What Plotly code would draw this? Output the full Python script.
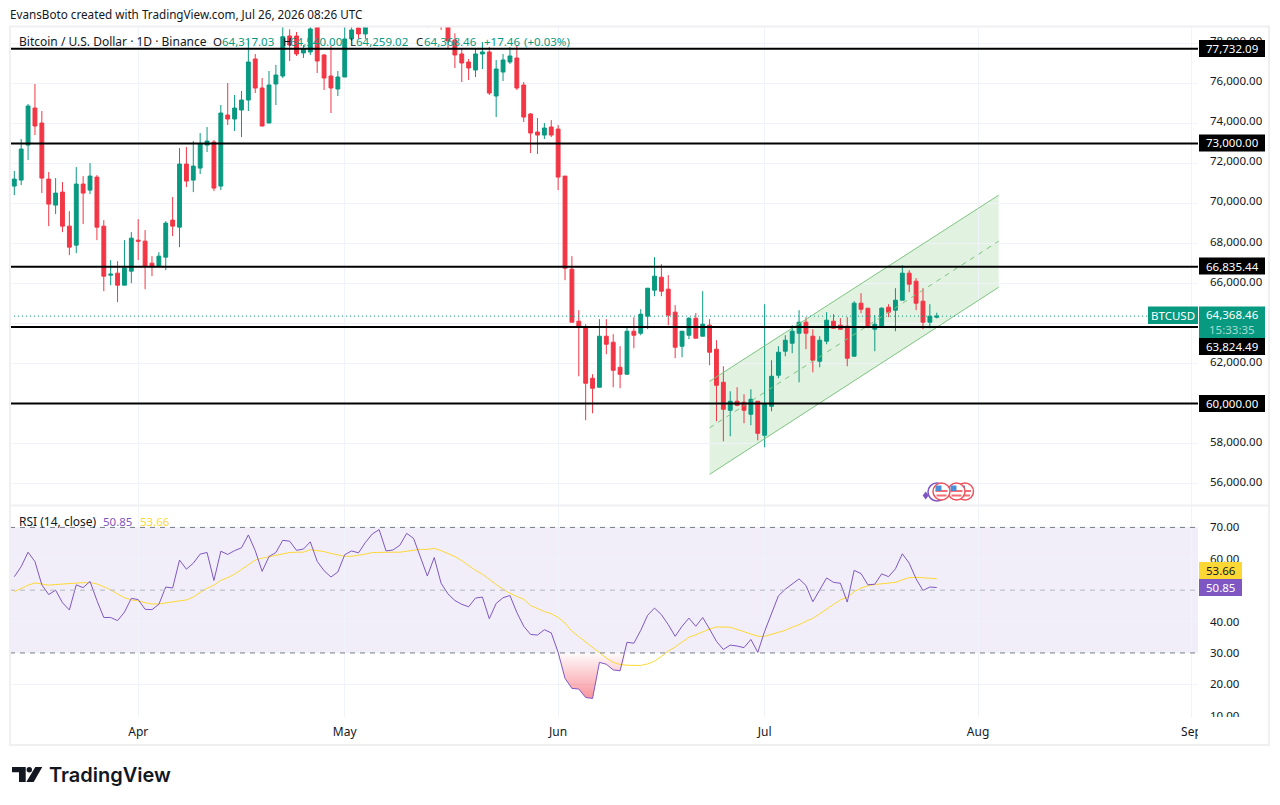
""" BTC/USD daily chart with RSI pane, rebuilt with plotly
"""

import pandas as pd
import plotly.graph_objects as go

WIDTH = 1280
HEIGHT = 805

# Daily candles, Mar 14 to Jul 26 2026 (rows of 10)
OPENS = [
    70867, 71167, 72917, 74767, 74017, 71217, 69917, 70567, 68867, 67917,
    70967, 70667, 71317, 68867, 66417, 66517, 65917, 66617, 68167, 68117,
    67017, 66867, 67317, 69167, 68817, 71967, 71167, 71767, 72917, 73067,
    70867, 74417, 74217, 74667, 75167, 77217, 75767, 74017, 75967, 76367,
    78367, 78367, 77517, 77567, 79100, 77417, 76367, 75717, 76317, 78217,
    78767, 78467, 79050, 79900, 80700, 79900, 79950, 80300, 81300, 80900,
    79500, 79000, 79800, 78900, 78167, 77467, 77067, 76667, 77467, 77567,
    75367, 76567, 77067, 77267, 75917, 74467, 73567, 73417, 73817, 73717,
    71367, 66717, 64117, 63817, 61267, 60817, 63367, 63067, 61817, 61467,
    63617, 63517, 64367, 65667, 66317, 65717, 64567, 62867, 63417, 64267,
    63367, 63917, 62717, 61067, 59667, 60117, 60067, 59467, 60117, 58417,
    59867, 61417, 62617, 63017, 63517, 64067, 63367, 62117, 63117, 64117,
    63917, 63867, 62367, 65017, 64767, 63717, 63817, 64817, 64667, 65167,
    66517, 66117, 65117, 64067, 64317.03,
]
HIGHS = [
    71617, 73217, 74967, 75967, 74617, 71567, 71267, 71067, 69617, 71817,
    71367, 72017, 71417, 69167, 67167, 67117, 68167, 68567, 69217, 68667,
    67367, 67567, 69117, 70317, 72767, 72817, 73117, 73517, 73817, 73167,
    74917, 76017, 75417, 75617, 78167, 77467, 76267, 76617, 76917, 78950,
    78700, 78567, 77917, 79100, 79400, 77467, 77867, 76617, 78900, 78900,
    78950, 79450, 80200, 81400, 81000, 80500, 80800, 82000, 81800, 81000,
    79700, 80200, 79900, 79000, 78500, 77717, 77217, 77767, 78067, 77817,
    77167, 77467, 77817, 77867, 76067, 74517, 74267, 74017, 74167, 73917,
    71367, 67367, 64667, 63967, 61467, 64217, 64217, 63467, 62867, 63867,
    64317, 64717, 65767, 67317, 66967, 66417, 64917, 63617, 64317, 64517,
    65617, 64217, 63167, 61867, 60617, 60817, 60467, 60717, 60117, 64967,
    62167, 62867, 63417, 63917, 64667, 64317, 63717, 63367, 64567, 64467,
    64267, 64317, 65117, 65517, 64767, 64417, 64817, 64967, 65767, 66917,
    66667, 66267, 65767, 64967, 64540.00,
]
LOWS = [
    70417, 70917, 72167, 73417, 70517, 68867, 69467, 68567, 67417, 67517,
    68967, 70467, 68167, 65617, 65917, 65067, 65917, 66017, 67167, 65717,
    66367, 66867, 66667, 68367, 67817, 70817, 70567, 71467, 72567, 70617,
    70667, 73917, 73617, 73317, 74617, 75517, 73867, 74017, 74917, 76267,
    77117, 77367, 77267, 77417, 76517, 75667, 74517, 75367, 76317, 78117,
    78217, 78217, 78950, 79600, 79700, 79500, 79600, 80100, 80400, 79200,
    78800, 78950, 78670, 77717, 76767, 76067, 76167, 76317, 76717, 75417,
    74317, 76117, 76967, 75667, 74067, 72517, 72467, 73217, 73317, 70667,
    66167, 64067, 61367, 59167, 59517, 60817, 62467, 60817, 60767, 61467,
    62767, 63417, 63717, 65367, 65367, 63917, 62267, 62317, 63217, 63267,
    63367, 61917, 59117, 58117, 58367, 59867, 59017, 58917, 58167, 57817,
    59617, 61267, 62367, 62517, 61067, 62717, 61567, 61817, 62967, 63767,
    63717, 61867, 62367, 64517, 63767, 62617, 63817, 64317, 63617, 65167,
    65567, 64667, 63717, 63767, 64259.02,
]
CLOSES = [
    71217, 72717, 74867, 73867, 71267, 69967, 70517, 68867, 67817, 70967,
    70517, 71367, 68817, 66367, 66467, 65917, 66767, 68267, 68117, 66867,
    66867, 67367, 69017, 68867, 71967, 71117, 71867, 72967, 73117, 70767,
    74517, 74217, 74767, 75167, 77067, 75767, 73867, 75917, 76417, 78330,
    77917, 77467, 77717, 78717, 77117, 76267, 75767, 76317, 78217, 78667,
    78467, 79050, 79900, 80700, 79900, 79950, 80300, 81300, 80900, 79500,
    79000, 79800, 78900, 78117, 77417, 77017, 76767, 77467, 77567, 75517,
    76717, 77167, 77367, 75767, 74317, 73517, 73417, 73767, 73417, 71317,
    66767, 64067, 63817, 61017, 60767, 63367, 62967, 61667, 61467, 63617,
    63417, 64467, 65767, 66367, 65617, 64417, 62817, 63617, 64267, 63267,
    63967, 62567, 60917, 59717, 60117, 59917, 59667, 60217, 58517, 59967,
    61367, 62567, 63167, 63617, 64067, 63517, 62167, 63167, 64167, 63767,
    63717, 62267, 65017, 64717, 63817, 63967, 64767, 64567, 65167, 66517,
    65967, 65017, 64067, 64367, 64368.46,
]

# RSI (14, close) and its moving average, one value per candle
RSI = [
    54.3, 57.5, 62.1, 59.1, 51.7, 48.6, 50.0, 46.0, 43.7, 51.7,
    50.8, 52.8, 46.7, 41.3, 41.3, 40.3, 43.0, 47.4, 47.0, 43.9,
    43.8, 45.5, 51.0, 50.7, 59.6, 56.7, 58.6, 61.5, 62.0, 53.1,
    62.4, 61.4, 62.6, 63.5, 67.6, 62.6, 56.0, 60.7, 62.0, 65.9,
    65.6, 62.7, 63.1, 65.4, 59.2, 56.2, 54.2, 55.8, 61.3, 62.5,
    61.9, 65.2, 67.9, 69.3, 62.5, 62.8, 64.3, 68.1, 66.5, 60.2,
    54.5, 60.4, 52.2, 48.8, 46.7, 45.5, 44.7, 47.5, 47.8, 40.9,
    45.8, 47.6, 48.3, 42.9, 38.5, 35.9, 35.7, 37.4, 36.4, 30.2,
    21.9, 18.7, 18.5, 15.8, 15.5, 27.0, 26.4, 24.6, 24.3, 33.4,
    33.1, 37.2, 42.0, 44.3, 42.2, 39.0, 35.3, 38.5, 41.1, 38.5,
    41.3, 37.6, 33.7, 31.1, 32.5, 32.2, 31.7, 34.3, 30.2, 36.9,
    42.7, 48.2, 50.3, 52.0, 53.6, 51.5, 46.3, 50.1, 53.9, 52.5,
    52.2, 46.2, 56.3, 55.3, 51.7, 51.9, 55.2, 54.3, 56.8, 61.6,
    58.6, 53.6, 49.9, 51.0, 50.85,
]
RSI_MA = [
    49.5, 50.5, 51.6, 52.3, 52.0, 51.6, 51.8, 52.0, 52.2, 52.3,
    52.4, 52.4, 52.0, 51.1, 50.1, 48.8, 47.6, 46.9, 46.6, 46.0,
    45.6, 45.6, 46.0, 46.2, 46.6, 46.9, 47.8, 49.3, 50.6, 51.6,
    53.1, 54.0, 55.1, 56.6, 58.0, 59.6, 60.2, 60.6, 61.0, 61.6,
    62.0, 62.1, 62.1, 62.9, 62.7, 62.3, 61.7, 61.2, 60.8, 60.8,
    61.1, 61.5, 62.0, 62.1, 62.1, 62.1, 62.1, 62.4, 62.8, 63.0,
    63.0, 63.3, 62.6, 61.7, 60.7, 59.4, 57.8, 56.3, 55.1, 53.3,
    51.8, 50.3, 49.0, 48.0, 47.1, 45.1, 44.1, 43.2, 42.5, 41.3,
    39.5, 36.9, 35.2, 33.5, 31.6, 30.0, 28.4, 27.0, 26.3, 26.1,
    26.0, 26.0, 26.5, 27.4, 28.9, 30.6, 31.9, 33.4, 35.0, 35.8,
    36.8, 37.6, 38.3, 38.3, 38.2, 37.5, 36.8, 36.0, 35.3, 35.3,
    35.9, 36.6, 37.2, 38.2, 39.0, 40.1, 41.0, 42.5, 44.0, 45.6,
    46.9, 47.7, 49.5, 50.7, 51.4, 51.8, 52.0, 52.2, 52.5, 53.3,
    54.0, 54.1, 54.0, 53.8, 53.66,
]

DATES = pd.date_range('2026-03-14', periods=len(CLOSES), freq='D')

# Horizontal levels drawn on the chart
LEVELS = [77732.09, 73000.00, 66835.44, 63824.49, 60000.00]

# Rising channel
CHANNEL_DATES = ['2026-06-23', '2026-08-04']
CHANNEL_UPPER = [61115, 70415]
CHANNEL_MID = [58790, 68115]
CHANNEL_LOWER = [56465, 65815]

PRICE_TICKS = list(range(56000, 80000, 2000))
RSI_TICKS = [10, 20, 30, 40, 50, 60, 70]
MONTHS = ['2026-04-01', '2026-05-01', '2026-06-01', '2026-07-01', '2026-08-01', '2026-09-01']
MONTH_LABELS = ['Apr', 'May', 'Jun', 'Jul', 'Aug', 'Sep']

GREEN = '#089981'
RED = '#f23645'
PURPLE = '#7e57c2'
YELLOW = '#fdd835'
GRID = '#f0f3fa'
FRAME = '#f0f0f3'
TEXT = '#131722'
FONT = 'Noto Sans'
NUMBER_SIZE = 11.5
PANE_LEFT = 10
PANE_RIGHT = 1198


def px(x: float) -> float:
    """Horizontal window pixel to paper coordinate."""
    return x / WIDTH


def py(y: float) -> float:
    """Vertical window pixel to paper coordinate."""
    return 1 - y / HEIGHT


def label(fig, x, y, text, color=TEXT, size=12, anchor='left') -> None:
    """Put a text at a pixel position."""
    fig.add_annotation(xref='paper', yref='paper', x=px(x), y=py(y), text=text,
                       showarrow=False, xanchor=anchor, yanchor='middle',
                       borderpad=0, font=dict(family=FONT, size=size, color=color))


def box(fig, x0, y0, x1, y1, fill, line=None, kind='rect', width=1) -> None:
    """Put a filled shape at a pixel position, above the traces."""
    fig.add_shape(type=kind, xref='paper', yref='paper', layer='above',
                  x0=px(x0), x1=px(x1), y0=py(y0), y1=py(y1), fillcolor=fill,
                  line=dict(color=line, width=width) if line else dict(width=0))


# Create the figure
fig = go.Figure()

fig.add_trace(go.Candlestick(
    x=DATES, open=OPENS, high=HIGHS, low=LOWS, close=CLOSES,
    increasing=dict(line=dict(color=GREEN, width=1), fillcolor=GREEN),
    decreasing=dict(line=dict(color=RED, width=1), fillcolor=RED),
    whiskerwidth=0, showlegend=False, hoverinfo='skip'))

# Channel fill goes under the candles, its lines over them
channel_path = (f'M {CHANNEL_DATES[0]} {CHANNEL_UPPER[0]} L {CHANNEL_DATES[1]} {CHANNEL_UPPER[1]} '
                f'L {CHANNEL_DATES[1]} {CHANNEL_LOWER[1]} L {CHANNEL_DATES[0]} {CHANNEL_LOWER[0]} Z')
fig.add_shape(type='path', xref='x', yref='y', path=channel_path, layer='below',
              fillcolor='rgba(76,175,80,0.17)', line=dict(width=0))
for values, dash in [(CHANNEL_UPPER, 'solid'), (CHANNEL_LOWER, 'solid'), (CHANNEL_MID, '5px 5px')]:
    fig.add_trace(go.Scatter(x=CHANNEL_DATES, y=values, mode='lines',
                             line=dict(color='#7cc47f', width=1, dash=dash),
                             showlegend=False, hoverinfo='skip'))

# RSI pane
oversold_dates = list(DATES[79:90])
oversold_values = [min(value, 30) for value in RSI[79:90]]
fig.add_trace(go.Scatter(x=oversold_dates + oversold_dates[::-1],
                         y=oversold_values + [30] * len(oversold_values),
                         xaxis='x2', yaxis='y2', mode='lines', fill='toself',
                         fillgradient=dict(type='vertical', start=15, stop=30,
                                           colorscale=[[0, 'rgba(242,54,69,0.55)'],
                                                       [1, 'rgba(242,54,69,0.02)']]),
                         line=dict(width=0), showlegend=False, hoverinfo='skip'))
fig.add_trace(go.Scatter(x=DATES, y=RSI_MA, xaxis='x2', yaxis='y2', mode='lines',
                         line=dict(color=YELLOW, width=1), showlegend=False, hoverinfo='skip'))
fig.add_trace(go.Scatter(x=DATES, y=RSI, xaxis='x2', yaxis='y2', mode='lines',
                         line=dict(color=PURPLE, width=1), showlegend=False, hoverinfo='skip'))

fig.add_shape(type='rect', xref='x2 domain', yref='y2', x0=0, x1=1, y0=30, y1=70, layer='below',
              fillcolor='rgba(126,87,194,0.1)', line=dict(width=0))
for level, color in [(70, '#787b86'), (50, '#b4b5bd'), (30, '#787b86')]:
    fig.add_shape(type='line', xref='x2 domain', yref='y2', x0=0, x1=1, y0=level, y1=level, layer='above',
                  line=dict(color=color, width=1, dash='5px 5px'))

# Levels and last price line
for level in LEVELS:
    fig.add_shape(type='line', xref='x domain', yref='y', x0=0, x1=1, y0=level, y1=level, layer='above',
                  line=dict(color='#000000', width=2))
fig.add_shape(type='line', xref='x domain', yref='y', x0=0, x1=1, y0=CLOSES[-1], y1=CLOSES[-1], layer='above',
              line=dict(color=GREEN, width=1, dash='1px 3px'))

# Configure the figure
date_range = ['2026-03-13 09:00', '2026-09-01 22:48']
common_x = dict(range=date_range, type='date', tickmode='array', tickvals=MONTHS, ticktext=MONTH_LABELS,
                showgrid=True, gridcolor=GRID, gridwidth=1, zeroline=False, showline=False, ticks='',
                rangeslider=dict(visible=False))
common_y = dict(side='right', showgrid=True, gridcolor=GRID, gridwidth=1, zeroline=False, showline=False,
                ticks='', ticklabelstandoff=11, tickfont=dict(family=FONT, size=NUMBER_SIZE, color=TEXT))
fig.update_layout(
    width=WIDTH, height=HEIGHT, margin=dict(l=0, r=0, t=0, b=0, autoexpand=False),
    paper_bgcolor='white', plot_bgcolor='white', showlegend=False, boxgap=0.2,
    xaxis=dict(common_x, domain=[px(PANE_LEFT), px(PANE_RIGHT)], anchor='y', showticklabels=False),
    xaxis2=dict(common_x, domain=[px(PANE_LEFT), px(PANE_RIGHT)], anchor='y2', showticklabels=True,
                ticklabelstandoff=6, tickfont=dict(family=FONT, size=12, color=TEXT)),
    yaxis=dict(common_y, domain=[py(505.5), py(27)], anchor='x', range=[54910, 78815],
               tickmode='array', tickvals=PRICE_TICKS, tickformat=',.2f', ticklabelshift=-2),
    yaxis2=dict(common_y, domain=[py(716.5), py(505.5)], anchor='x2', range=[9.75, 76.98],
                tickmode='array', tickvals=RSI_TICKS, tickformat='.2f'),
)

# Frame round the chart
fig.add_shape(type='rect', xref='paper', yref='paper', layer='above', x0=px(10), x1=px(1269), y0=py(745), y1=py(26.5),
              line=dict(color=FRAME, width=2))
fig.add_shape(type='line', xref='paper', yref='paper', layer='above', x0=px(10), x1=px(1269), y0=py(505.5), y1=py(505.5),
              line=dict(color=FRAME, width=2))

# Clip the tick labels that run off their panes
box(fig, 1199, 717, 1266, 730, 'white')
box(fig, 1198, 722, 1216, 742, 'white')

# Header and legends
label(fig, 9, 14, 'EvansBoto created with TradingView.com, Jul 26, 2026 08:26 UTC', size=11.7)
label(fig, 18, 41, 'Bitcoin / U.S. Dollar · 1D · Binance')
for x, text, color in [(212, 'O', TEXT), (221, '64,317.03', GREEN), (282, 'H', TEXT), (289, '64,540.00', GREEN),
                       (349, 'L', TEXT), (355, '64,259.02', GREEN), (415, 'C', TEXT), (423, '64,368.46', GREEN),
                       (483, '+17.46', GREEN), (523, '(+0.03%)', GREEN)]:
    label(fig, x, 41, text, color, size=NUMBER_SIZE)
label(fig, 18, 521, 'RSI (14, close)')
label(fig, 102, 521, '50.85', PURPLE, size=NUMBER_SIZE)
label(fig, 139, 521, '53.66', YELLOW, size=NUMBER_SIZE)

# Price axis labels
for level, top in zip(LEVELS, [40, 134.5, 257.5, 338, 395]):
    box(fig, 1199, top, 1265, top + 17, '#000000')
    label(fig, 1232, top + 8.5, f'{level:,.2f}', 'white', NUMBER_SIZE, 'center')
box(fig, 1199, 306.5, 1265, 338, GREEN)
label(fig, 1232, 315, f'{CLOSES[-1]:,.2f}', 'white', NUMBER_SIZE, 'center')
label(fig, 1232, 329, '15:33:35', '#a6dcd2', NUMBER_SIZE, 'center')
box(fig, 1148, 306.5, 1198, 324, GREEN)
label(fig, 1173, 315.5, 'BTCUSD', 'white', NUMBER_SIZE, 'center')
box(fig, 1199, 562, 1242, 579, YELLOW)
label(fig, 1220.5, 570.5, '53.66', TEXT, NUMBER_SIZE, 'center')
box(fig, 1199, 579, 1242, 596, PURPLE)
label(fig, 1220.5, 587.5, '50.85', 'white', NUMBER_SIZE, 'center')

# Event marks under the candles
box(fig, 928, 483, 946, 501, 'rgba(0,0,0,0)', line=PURPLE, kind='circle', width=1.5)
fig.add_shape(type='path', xref='paper', yref='paper', layer='above', fillcolor=PURPLE, line=dict(width=0),
              path=f'M {px(925.7)} {py(491.5)} L {px(928.7)} {py(495.5)} L {px(925.7)} {py(499.5)} L {px(922.7)} {py(495.5)} Z')
for center in [965, 956.5, 941.5]:
    box(fig, center - 8.5, 483, center + 8.5, 500, 'white', line='#f0525c', kind='circle', width=1.5)
    box(fig, center - 6, 490, center + 6, 492, '#f26d75')
    box(fig, center - 5, 494.5, center + 5, 496.5, '#f26d75')
    box(fig, center - 6, 485.5, center, 491, '#4a90d9')

# TradingView logo
logo_shapes = [
    [(12, 767), (25.7, 767), (25.7, 782), (19, 782), (19, 772.3), (12, 772.3)],
    [(35.3, 767), (42.3, 767), (33.7, 782), (26.3, 782)],
]
for points in logo_shapes:
    path = 'M ' + ' L '.join(f'{px(x)} {py(y)}' for x, y in points) + ' Z'
    fig.add_shape(type='path', xref='paper', yref='paper', layer='above', path=path,
                  fillcolor=TEXT, line=dict(width=0))
box(fig, 26.6, 767, 32, 772.4, TEXT, kind='circle')
fig.add_annotation(xref='paper', yref='paper', x=px(47), y=py(775), text='TradingView', showarrow=False,
                   xanchor='left', yanchor='middle', font=dict(family='Inter', size=20, color=TEXT, weight=600))

# The page's default body margin would push the figure off its window
fig.write_html('out.html', config={'displayModeBar': False},
               post_script="document.body.style.margin = '0';")
